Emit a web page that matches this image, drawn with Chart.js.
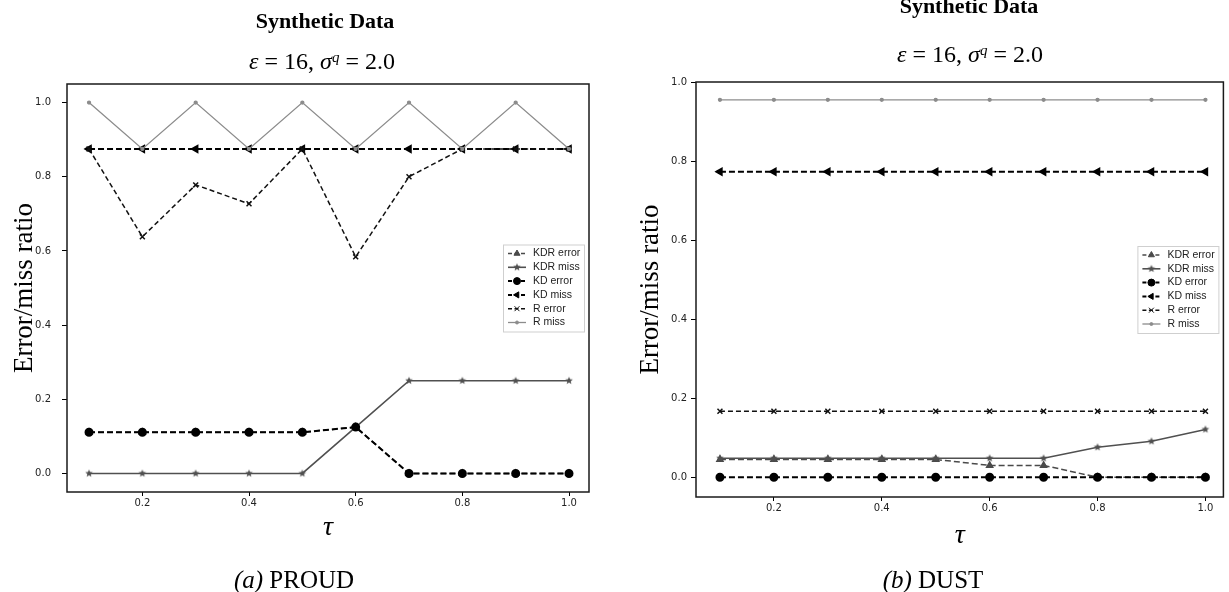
<!DOCTYPE html>
<html>
<head>
<meta charset="utf-8">
<script src="https://cdn.jsdelivr.net/npm/chart.js@4.4.1/dist/chart.umd.min.js"></script>
<style>
  body { margin: 0; width: 1229px; height: 592px; position: relative; overflow: hidden; background: #fff; }
  canvas { position: absolute; top: 0; }
  .lbl { position: absolute; transform: translate(-50%, -50%); white-space: nowrap; font-family: "Liberation Serif", serif; color: #000; line-height: 1; }
  .title { font-weight: bold; font-size: 22px; }
  .sub { font-size: 24px; }
  .sub sup { font-size: 15px; vertical-align: 0.5em; line-height: 0; }
  .cap { font-size: 25px; }
</style>
</head>
<body>
<canvas id="proud" width="620" height="592" style="left:0"></canvas>
<canvas id="dust" width="609" height="592" style="left:620px"></canvas>

<div class="lbl title" style="left:325px;top:21px">Synthetic Data</div>
<div class="lbl sub" style="left:322px;top:61px"><i>ε</i> = 16, <i>σ</i><sup><i>q</i></sup> = 2.0</div>
<div class="lbl title" style="left:969px;top:6px">Synthetic Data</div>
<div class="lbl sub" style="left:970px;top:54px"><i>ε</i> = 16, <i>σ</i><sup><i>q</i></sup> = 2.0</div>
<div class="lbl cap" style="left:294px;top:579px"><i>(a)</i> PROUD</div>
<div class="lbl cap" style="left:933px;top:579px"><i>(b)</i> DUST</div>

<script>
// x values (tau) and axis ticks
const tau = [0.1, 0.2, 0.3, 0.4, 0.5, 0.6, 0.7, 0.8, 0.9, 1.0];
const xTicks = [0.2, 0.4, 0.6, 0.8, 1.0];
const yTicks = [0.0, 0.2, 0.4, 0.6, 0.8, 1.0];
const seriesNames = ["KDR error", "KDR miss", "KD error", "KD miss", "R error", "R miss"];

// (a) PROUD
const proudKdrError = [0.111, 0.111, 0.111, 0.111, 0.111, 0.125, 0, 0, 0, 0];
const proudKdrMiss = [0, 0, 0, 0, 0, 0.125, 0.25, 0.25, 0.25, 0.25];
const proudKdError = [0.111, 0.111, 0.111, 0.111, 0.111, 0.125, 0, 0, 0, 0];
const proudKdMiss = [0.875, 0.875, 0.875, 0.875, 0.875, 0.875, 0.875, 0.875, 0.875, 0.875];
const proudRError = [0.875, 0.638, 0.778, 0.727, 0.875, 0.584, 0.8, 0.875, 0.875, 0.875];
const proudRMiss = [1.0, 0.875, 1.0, 0.875, 1.0, 0.875, 1.0, 0.875, 1.0, 0.875];

// (b) DUST
const dustKdrError = [0.045, 0.045, 0.045, 0.045, 0.045, 0.03, 0.03, 0, 0, 0];
const dustKdrMiss = [0.048, 0.048, 0.048, 0.048, 0.048, 0.048, 0.048, 0.076, 0.091, 0.121];
const dustKdError = [0, 0, 0, 0, 0, 0, 0, 0, 0, 0];
const dustKdMiss = [0.773, 0.773, 0.773, 0.773, 0.773, 0.773, 0.773, 0.773, 0.773, 0.773];
const dustRError = [0.167, 0.167, 0.167, 0.167, 0.167, 0.167, 0.167, 0.167, 0.167, 0.167];
const dustRMiss = [0.955, 0.955, 0.955, 0.955, 0.955, 0.955, 0.955, 0.955, 0.955, 0.955];

// filled five point star, like matplotlib's "*" marker
function starMarker(r, color) {
  var c = document.createElement("canvas");
  c.width = c.height = Math.ceil(2 * r + 2);
  var g = c.getContext("2d");
  g.fillStyle = color;
  g.beginPath();
  for (var k = 0; k < 10; k++) {
    var rr = k % 2 ? r * 0.45 : r;
    var a = -Math.PI / 2 + (k * Math.PI) / 5;
    var px = c.width / 2 + rr * Math.cos(a);
    var py = c.height / 2 + rr * Math.sin(a);
    if (k === 0) g.moveTo(px, py);
    else g.lineTo(px, py);
  }
  g.closePath();
  g.fill();
  return c;
}

var dash = [6, 3];
var lineStyles = [
  { borderColor: "#4a4a4a", borderWidth: 1.5, borderDash: dash, pointStyle: "triangle", pointRadius: 3.5, pointBackgroundColor: "#4a4a4a", pointBorderColor: "#4a4a4a" },
  { borderColor: "#505050", borderWidth: 1.6, borderDash: [], pointStyle: starMarker(4, "#505050"), pointRadius: 4, pointBackgroundColor: "#505050", pointBorderColor: "#505050" },
  { borderColor: "#000", borderWidth: 2, borderDash: dash, pointStyle: "circle", pointRadius: 3.5, pointBackgroundColor: "#000", pointBorderColor: "#000" },
  { borderColor: "#000", borderWidth: 2, borderDash: dash, pointStyle: "triangle", pointRotation: -90, pointRadius: 3.5, pointBackgroundColor: "#000", pointBorderColor: "#000" },
  { borderColor: "#111", borderWidth: 1.5, borderDash: [5, 3], pointStyle: "crossRot", pointRadius: 3.5, pointBackgroundColor: "#111", pointBorderColor: "#111" },
  { borderColor: "#8c8c8c", borderWidth: 1.3, borderDash: [], pointStyle: "circle", pointRadius: 1.5, pointBackgroundColor: "#8c8c8c", pointBorderColor: "#8c8c8c" },
];

var frame = {
  id: "frame",
  afterDatasetsDraw(chart) {
    var ctx = chart.ctx, a = chart.chartArea;
    ctx.save();
    ctx.strokeStyle = "#1a1a1a";
    ctx.lineWidth = 1.5;
    ctx.strokeRect(a.left, a.top, a.right - a.left, a.bottom - a.top);
    ctx.restore();
  },
};

// matplotlib style legend box, centre right inside the axes
var boxLegend = {
  id: "boxLegend",
  afterDraw(chart) {
    var ctx = chart.ctx, a = chart.chartArea;
    var sets = chart.data.datasets;
    var rowH = 13.8, w = 81, h = 87;
    var x0 = a.right - 5 - w;
    var y0 = (a.top + a.bottom) / 2 - h / 2;
    ctx.save();
    ctx.fillStyle = "rgba(255,255,255,0.85)";
    ctx.strokeStyle = "#cfcfcf";
    ctx.lineWidth = 1;
    ctx.fillRect(x0, y0, w, h);
    ctx.strokeRect(x0 + 0.5, y0 + 0.5, w, h);
    sets.forEach((ds, i) => {
      var y = y0 + 9 + rowH * i;
      ctx.strokeStyle = ds.borderColor;
      ctx.lineWidth = ds.borderWidth;
      ctx.setLineDash(ds.borderDash.length ? [4, 2.5] : []);
      ctx.beginPath();
      ctx.moveTo(x0 + 5, y);
      ctx.lineTo(x0 + 23, y);
      ctx.stroke();
      ctx.setLineDash([]);
      ctx.fillStyle = ds.pointBackgroundColor;
      ctx.strokeStyle = ds.pointBorderColor;
      ctx.lineWidth = 1;
      Chart.helpers.drawPoint(ctx, { pointStyle: ds.pointStyle, rotation: ds.pointRotation || 0, radius: ds.pointRadius, borderWidth: 1 }, x0 + 14, y);
      ctx.fillStyle = "#222";
      ctx.font = '10.5px "Liberation Sans"';
      ctx.textBaseline = "middle";
      ctx.fillText(ds.label, x0 + 30, y);
    });
    ctx.restore();
  },
};

function buildChart(id, series, o) {
  return new Chart(document.getElementById(id), {
    type: "line",
    data: {
      datasets: series.map((values, i) => ({
        label: seriesNames[i],
        data: tau.map((t, k) => ({ x: t, y: values[k] })),
        order: -i,
        tension: 0,
        fill: false,
        pointHoverRadius: lineStyles[i].pointRadius,
        ...lineStyles[i],
      })),
    },
    options: {
      responsive: false,
      animation: false,
      events: [],
      devicePixelRatio: 1,
      layout: { padding: o.padding },
      scales: {
        x: {
          type: "linear",
          bounds: "data",
          min: o.xMin,
          max: o.xMax,
          afterBuildTicks: (s) => { s.ticks = xTicks.map((v) => ({ value: v })); },
          afterFit: (s) => { s.height = o.xHeight; },
          grid: { drawOnChartArea: false, tickLength: 4, tickColor: "#000", lineWidth: 1 },
          border: { display: false },
          ticks: { padding: o.xTickPad, color: "#222", maxRotation: 0, autoSkip: false, font: { family: "DejaVu Sans", size: 10 }, callback: (v) => v.toFixed(1) },
          title: { display: true, text: "τ", color: "#000", padding: { top: 0, bottom: 0 }, font: { family: "Liberation Serif", size: 28, style: "italic" } },
        },
        y: {
          type: "linear",
          bounds: "data",
          min: o.yMin,
          max: o.yMax,
          afterBuildTicks: (s) => { s.ticks = yTicks.map((v) => ({ value: v })); },
          afterFit: (s) => { s.width = o.yWidth; },
          grid: { drawOnChartArea: false, tickLength: 5, tickColor: "#000", lineWidth: 1 },
          border: { display: false },
          ticks: { padding: o.yTickPad, color: "#222", autoSkip: false, font: { family: "DejaVu Sans", size: 10 }, callback: (v) => v.toFixed(1) },
          title: { display: true, text: "Error/miss ratio", color: "#000", padding: { top: o.yTitlePad, bottom: 0 }, font: { family: "Liberation Serif", size: 27 } },
        },
      },
      plugins: { legend: { display: false }, tooltip: { enabled: false } },
    },
    plugins: [frame, boxLegend],
  });
}

var proudChart = buildChart(
  "proud",
  [proudKdrError, proudKdrMiss, proudKdError, proudKdMiss, proudRError, proudRMiss],
  { padding: { top: 84, right: 31, bottom: 48, left: 0 }, xMin: 0.0587, xMax: 1.0375, yMin: -0.05, yMax: 1.05, xHeight: 52, yWidth: 67, xTickPad: 1, yTickPad: 11, yTitlePad: 9 }
);

var dustChart = buildChart(
  "dust",
  [dustKdrError, dustKdrMiss, dustKdError, dustKdMiss, dustRError, dustRMiss],
  { padding: { top: 82, right: 4, bottom: 40, left: 0 }, xMin: 0.0556, xMax: 1.0333, yMin: -0.05, yMax: 1.0, xHeight: 55, yWidth: 76, xTickPad: 1, yTickPad: 4, yTitlePad: 15 }
);
</script>
</body>
</html>
